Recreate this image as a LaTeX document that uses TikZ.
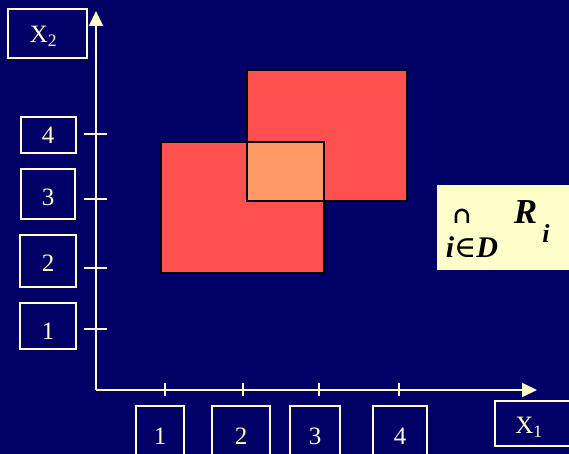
\documentclass[tikz,border=0pt]{standalone}
\usepackage{fontspec}
\setmainfont{Liberation Serif}
\newfontfamily\symfont{DejaVu Serif}
\usetikzlibrary{arrows.meta}
\definecolor{navy}{RGB}{0,0,102}
\definecolor{cream}{RGB}{255,255,204}
\definecolor{rectred}{RGB}{255,80,80}
\definecolor{overlap}{RGB}{255,153,102}
\definecolor{formulabg}{RGB}{255,255,204}
\newcommand{\dn}[2]{\raisebox{-#1pt}[\height][\depth]{#2}}
\begin{document}
\begin{tikzpicture}[x=1pt,y=-1pt,
  axis/.style={cream,line width=2pt,-{Triangle[width=14pt,length=15pt]}},
  tickline/.style={cream,line width=1.6pt},
  labelbox/.style={draw=cream,line width=2pt,text=cream,
    font=\fontsize{25}{25}\selectfont,inner sep=0pt},
  region/.style={fill=rectred,draw=black,line width=2pt},
  overlapregion/.style={fill=overlap,draw=black,line width=2pt},
  formula/.style={inner sep=0pt,anchor=base,text=black}]
\useasboundingbox (0,0) rectangle (569,454);
\fill[navy] (0,0) rectangle (569,454);
\clip (0,0) rectangle (569,454);

% axes
\coordinate (O) at (96,390);
\coordinate (ytip) at (96,11);
\coordinate (xtip) at (537,390);
\draw[axis] (O) -- (ytip);
\draw[axis] (O) -- (xtip);

% ticks
\foreach \yy in {134,199,268,329} \draw[tickline] (84,\yy) -- (107,\yy);
\foreach \xx in {165,243,319,399} \draw[tickline] (\xx,383) -- (\xx,396);

% axis label boxes
\node[labelbox,minimum width=79pt,minimum height=49pt] (x2) at (47.5,33.5) {\dn{3}{\hspace*{-8pt}X\textsubscript{2}}};
\node[labelbox,minimum width=80pt,minimum height=45pt] (x1) at (535,423.5) {\dn{4}{\hspace*{-12pt}X\textsubscript{1}}};

% y value boxes
\node[labelbox,minimum width=55pt,minimum height=36pt] (y4) at (48,135) {4};
\node[labelbox,minimum width=54pt,minimum height=50pt] (y3) at (48,194) {\dn{3}{3}};
\node[labelbox,minimum width=56pt,minimum height=52pt] (y2) at (48,261) {\dn{2}{2}};
\node[labelbox,minimum width=56pt,minimum height=46pt] (y1) at (48,326) {\dn{5}{1}};

% x value boxes
\node[labelbox,minimum width=48pt,minimum height=60pt] (xa) at (160,436) {1};
\node[labelbox,minimum width=58pt,minimum height=60pt] (xb) at (241,436) {2};
\node[labelbox,minimum width=50pt,minimum height=60pt] (xc) at (315,436) {3};
\node[labelbox,minimum width=54pt,minimum height=60pt] (xd) at (400,436) {4};

% rectangles
\draw[region] (161,142) rectangle (324,273);
\draw[region] (247,70) rectangle (407,201);
\draw[overlapregion] (247,142) rectangle (324,201);

% formula
\fill[formulabg] (437,185) rectangle (575,270);
\node[formula,anchor=center,font=\fontsize{23}{23}\selectfont\symfont\bfseries] (cap) at (462,216) {∩};
\node[formula,font=\fontsize{30}{30}\selectfont\bfseries] (idx) at (472,257) {\itshape i{\symfont\mdseries ∈}D};
\node[formula,font=\fontsize{35}{35}\selectfont\bfseries\itshape] (R) at (525.5,223) {R};
\node[formula,font=\fontsize{26}{26}\selectfont\bfseries\itshape] (Ri) at (546,242) {i};
\end{tikzpicture}
\end{document}
